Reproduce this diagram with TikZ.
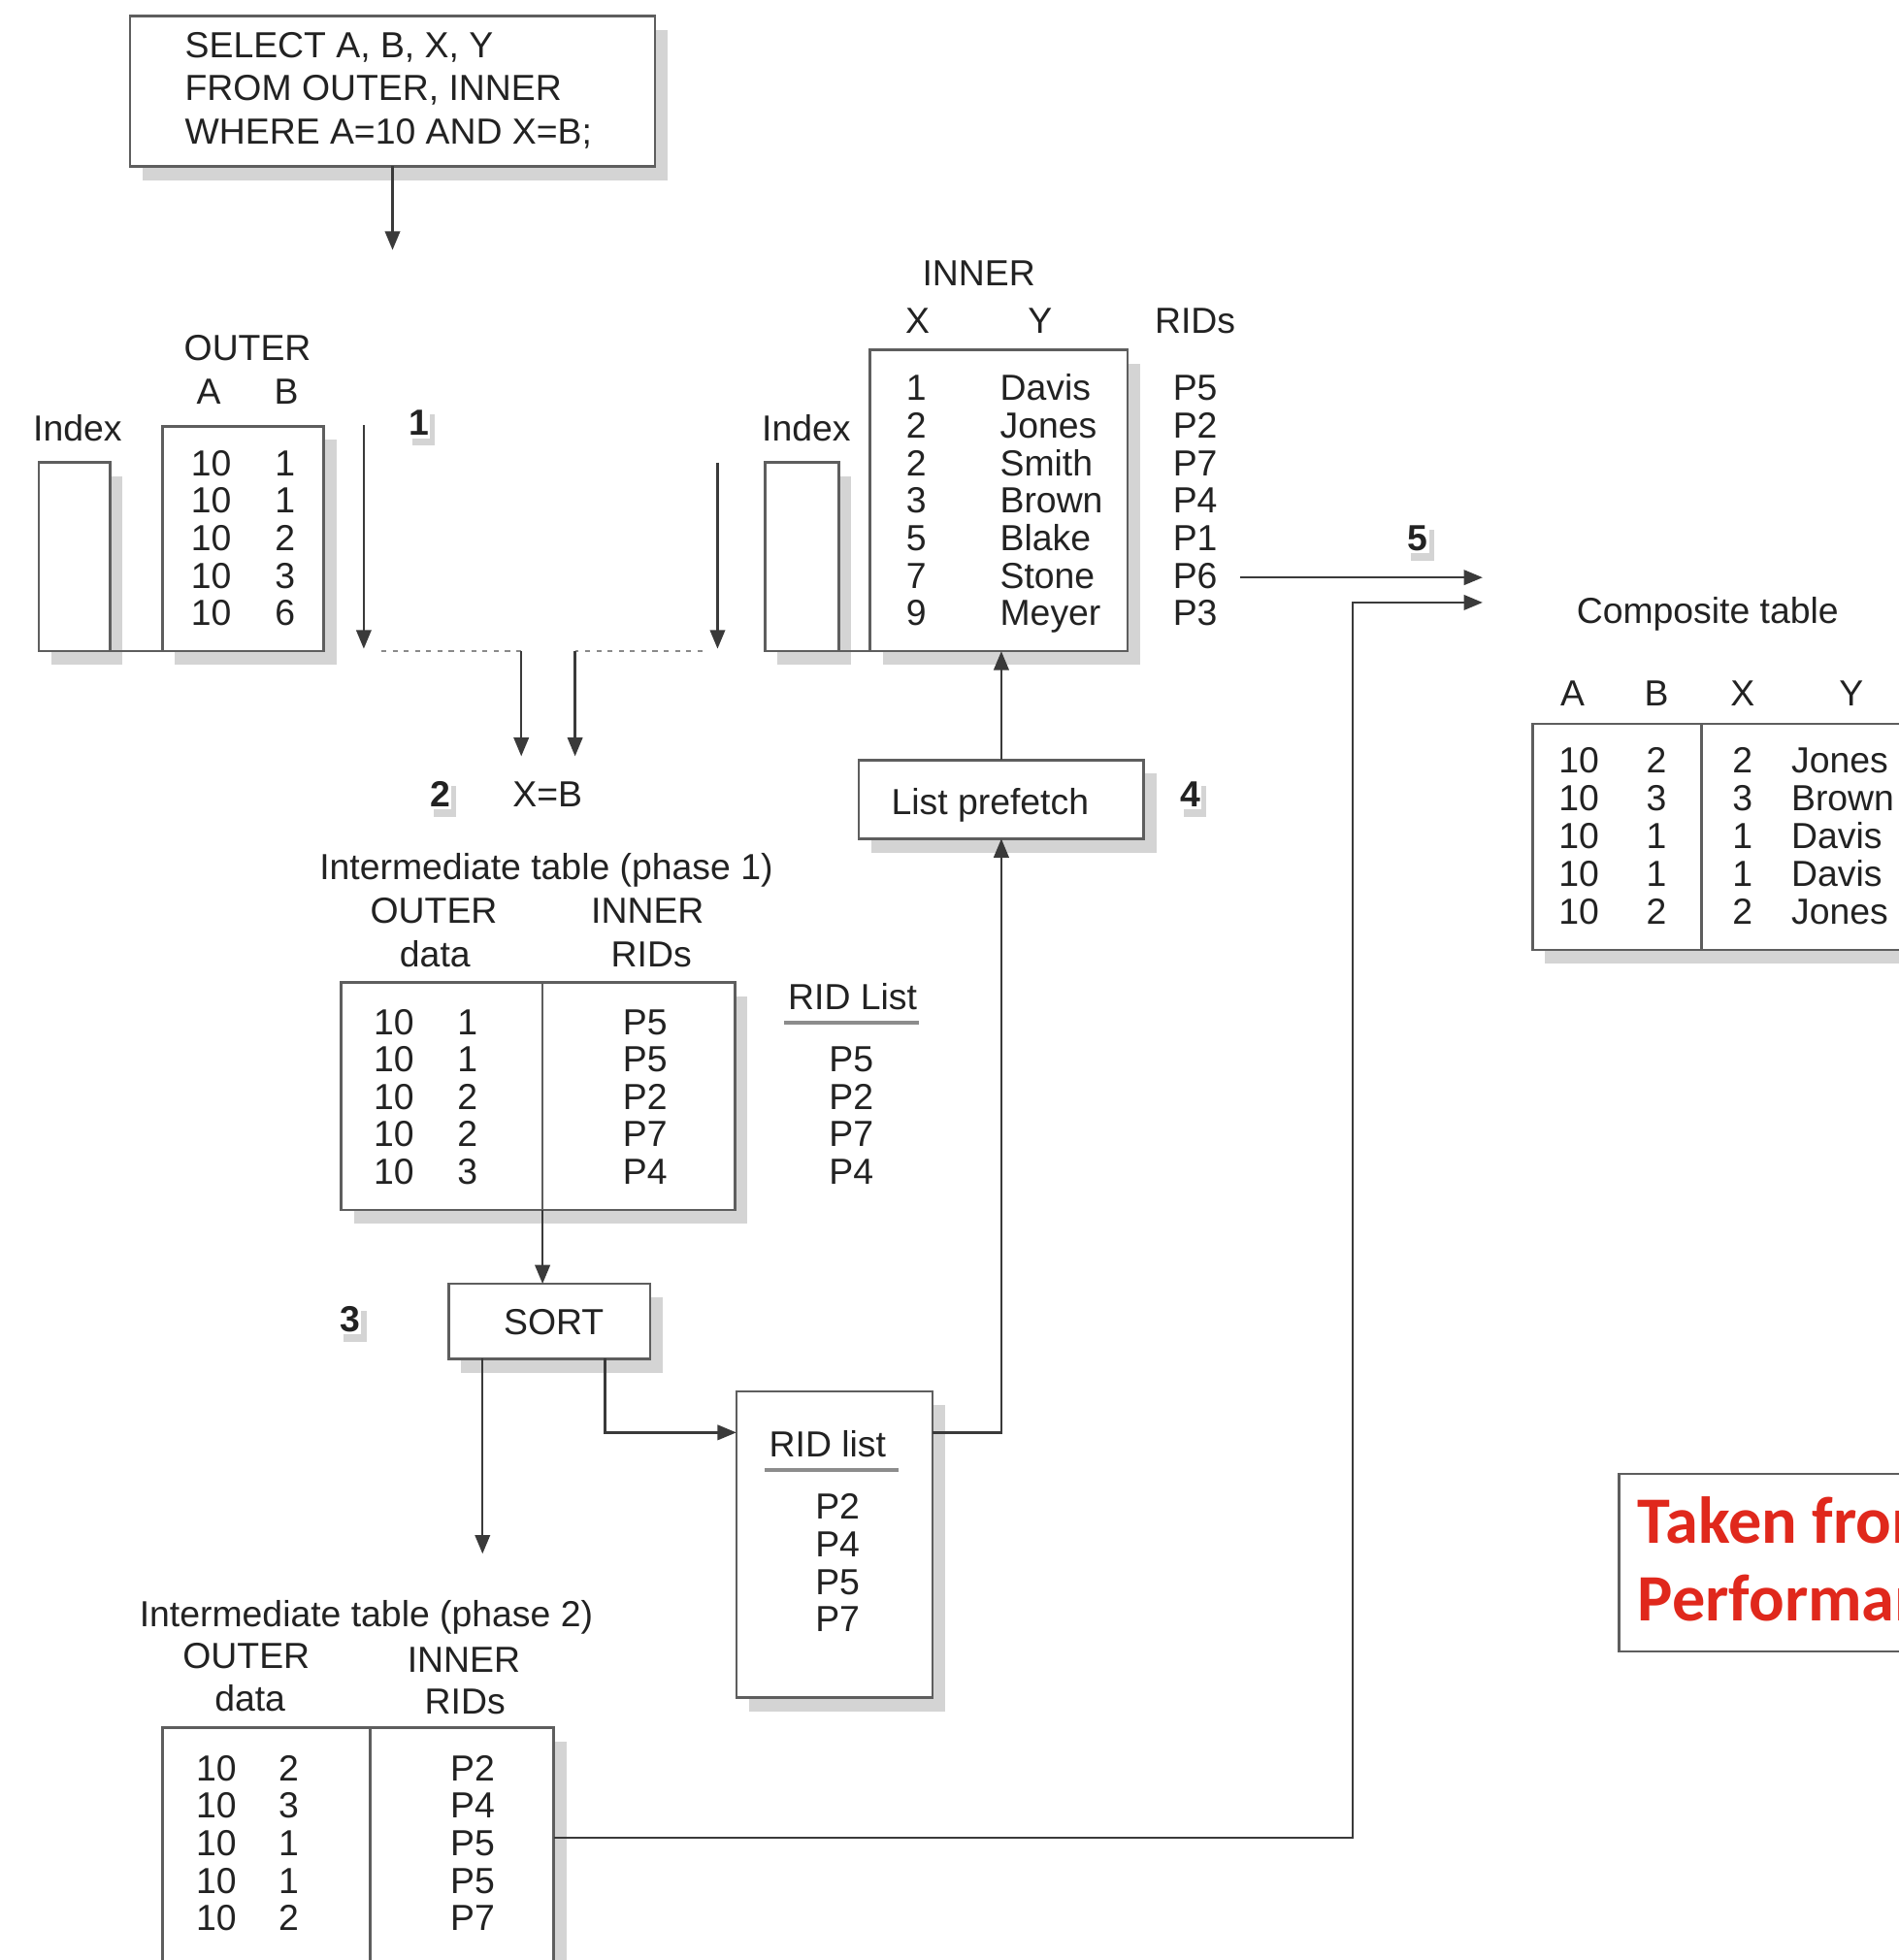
\documentclass[tikz,border=0pt]{standalone}
\usepackage{fontspec}
\setmainfont{Liberation Sans}
\newfontfamily\carl{Carlito}
\usetikzlibrary{arrows.meta,shadows}
\definecolor{txtc}{HTML}{222222}
\definecolor{boxc}{HTML}{5E5E5E}
\definecolor{shc}{HTML}{D4D4D4}
\definecolor{linec}{HTML}{3A3A3A}
\definecolor{dashc}{HTML}{8A8A8A}
\definecolor{ulc}{HTML}{8C8C8C}
\definecolor{redc}{HTML}{E0281C}
\newcommand\dfont{\fontsize{29}{34}\selectfont}
\newcommand\nfont{\fontsize{29}{34}\selectfont\bfseries}
\newcommand\rfont{\carl\bfseries\fontsize{53}{62}\selectfont}
\begin{document}
\begin{tikzpicture}[x=1pt,y=-1pt,
  t/.style={inner sep=0pt, outer sep=0pt, text height=21pt, text depth=0pt, font=\dfont, text=txtc},
  tw/.style={t, anchor=west},
  box/.style={draw=boxc, line width=2pt, fill=white, anchor=north west, inner sep=0pt, outer sep=0pt,
     drop shadow={shadow xshift=10pt, shadow yshift=-11pt, fill=shc, opacity=1}},
  stepn/.style={t, font=\nfont, fill=white, inner xsep=1pt, inner ysep=2pt,
     drop shadow={shadow xshift=4pt, shadow yshift=-6pt, fill=shc, opacity=1}},
  arr/.style={draw=linec, line width=1.8pt, -{Triangle[length=15pt,width=12pt]}},
  bln/.style={draw=boxc, line width=2pt},
  dsh/.style={draw=dashc, line width=1.6pt, dash pattern=on 4pt off 5pt},
  ul/.style={draw=ulc, line width=3pt}]
\clip (0,0) rectangle (1519,1568);
\fill[white] (0,0) rectangle (1519,1568);

% SQL box
\node[box, minimum width=420pt, minimum height=120pt] (sql) at (104,13) {};
\node[tw] (q1) at (148,36) {SELECT A, B, X, Y};
\node[tw] (q2) at (148,70) {FROM OUTER, INNER};
\node[tw] (q3) at (148,105) {WHERE A=10 AND X=B;};
\coordinate (sqlend) at (315,200);
\draw[arr] (sql.south) -- (sql.south |- sqlend);

% OUTER table
\node[t] (outerl) at (198,278) {OUTER};
\node[t] (ha) at (167,313) {A};
\node[t] (hb) at (229,313) {B};
\node[t] (idxl1) at (62,342) {Index};
\node[box, minimum width=57pt, minimum height=151pt] (idx1) at (31,370) {};
\node[box, minimum width=129pt, minimum height=180pt] (outer) at (130,341) {};
\draw[bln] (idx1.south east) -- (outer.south west);
\foreach \a/\b [count=\i] in {10/1,10/1,10/2,10/3,10/6}{
  \node[t] (oa\i) at (169,{340+30*\i}) {\a};
  \node[t] (ob\i) at (228,{340+30*\i}) {\b};
}
\node[stepn] (s1) at (335,338) {1};

% INNER table
\node[t] (innerl) at (783,218) {INNER};
\node[t] (hx) at (734,256) {X};
\node[t] (hy) at (832,256) {Y};
\node[t] (hr) at (956,256) {RIDs};
\node[t] (idxl2) at (645,342) {Index};
\node[box, minimum width=59pt, minimum height=151pt] (idx2) at (612,370) {};
\node[box, minimum width=206pt, minimum height=241pt] (inner) at (696,280) {};
\draw[bln] (idx2.south east) -- (inner.south west);
\foreach \x/\y/\r [count=\i] in {1/Davis/P5,2/Jones/P2,2/Smith/P7,3/Brown/P4,5/Blake/P1,7/Stone/P6,9/Meyer/P3}{
  \node[t] (ix\i) at (733,{280+30*\i}) {\x};
  \node[tw] (iy\i) at (800,{280+30*\i}) {\y};
  \node[t] (ir\i) at (956,{280+30*\i}) {\r};
}

% join arrows
\coordinate (a1s) at (291,340);
\coordinate (a1e) at (291,519);
\coordinate (d1s) at (305,521);
\coordinate (j1) at (417,521);
\coordinate (xb1) at (417,605);
\coordinate (a2s) at (574,370);
\coordinate (a2e) at (574,519);
\coordinate (d2s) at (562,521);
\coordinate (j2) at (460,521);
\coordinate (xb2) at (460,605);
\draw[arr] (a1s) -- (a1e);
\draw[arr] (a2s) -- (a2e);
\draw[dsh] (d1s) -- (j1);
\draw[dsh] (d2s) -- (j2);
\draw[arr] (j1) -- (xb1);
\draw[arr] (j2) -- (xb2);
\node[stepn] (s2) at (352,635) {2};
\node[t] (xeqb) at (438,635) {X=B};

% step 5 arrows
\node[stepn] (s5) at (1134,430) {5};
\coordinate (c5s) at (992,462);
\coordinate (c5e) at (1186,462);
\draw[arr] (c5s) -- (c5e);

% List prefetch
\node[box, minimum width=228pt, minimum height=63pt] (lp) at (687,608) {};
\node[t] (lpt) at (792,641) {List prefetch};
\node[stepn] (s4) at (952,635) {4};
\draw[arr] (lp.north) -- (lp.north |- inner.south);

% Phase 1
\node[t] (p1l) at (437,693) {Intermediate table (phase 1)};
\node[t] (p1o) at (347,728) {OUTER};
\node[t] (p1d) at (348,763) {data};
\node[t] (p1i) at (518,728) {INNER};
\node[t] (p1r) at (521,763) {RIDs};
\node[box, minimum width=315pt, minimum height=182pt] (p1) at (273,786) {};
\coordinate (p1div) at (434,786);
\draw[bln] (p1div) -- (p1div |- p1.south);
\foreach \a/\b/\r [count=\i] in {10/1/P5,10/1/P5,10/2/P2,10/2/P7,10/3/P4}{
  \node[t] (pa\i) at (315,{787+30*\i}) {\a};
  \node[t] (pb\i) at (374,{787+30*\i}) {\b};
  \node[t] (pr\i) at (516,{787+30*\i}) {\r};
}
\node[t] (rl1) at (682,797) {RID List};
\coordinate (ul1a) at (627,818);
\coordinate (ul1b) at (735,818);
\draw[ul] (ul1a) -- (ul1b);
\foreach \r [count=\i] in {P5,P2,P7,P4}{
  \node[t] (rla\i) at (681,{817+30*\i}) {\r};
}

% SORT
\node[box, minimum width=161pt, minimum height=60pt] (sort) at (359,1027) {};
\node[t] (sortt) at (443,1057) {SORT};
\node[stepn] (s3) at (280,1055) {3};
\draw[arr] (p1div |- p1.south) -- (p1div |- sort.north);

% RID list box
\node[box, minimum width=157pt, minimum height=245pt] (rid2) at (589,1113) {};
\node[t] (rl2) at (662,1155) {RID list};
\coordinate (ul2a) at (612,1176);
\coordinate (ul2b) at (719,1176);
\draw[ul] (ul2a) -- (ul2b);
\foreach \r [count=\i] in {P2,P4,P5,P7}{
  \node[t] (rlb\i) at (670,{1175+30*\i}) {\r};
}
\coordinate (p2arr) at (386,1243);
\draw[arr] ([xshift=27pt]sort.south west) -- (p2arr);
\draw[arr] ([xshift=125pt]sort.south west) |- ([yshift=-33pt]rid2.north west);
\draw[arr] ([yshift=-33pt]rid2.north east) -| (lp.south);

% Phase 2
\node[t] (p2l) at (293,1291) {Intermediate table (phase 2)};
\node[t] (p2o) at (197,1324) {OUTER};
\node[t] (p2d) at (200,1358) {data};
\node[t] (p2i) at (371,1327) {INNER};
\node[t] (p2r) at (372,1361) {RIDs};
\node[box, minimum width=313pt, minimum height=220pt] (p2) at (130,1382) {};
\coordinate (p2div) at (296,1382);
\draw[bln] (p2div) -- (p2div |- p2.south);
\foreach \a/\b/\r [count=\i] in {10/2/P2,10/3/P4,10/1/P5,10/1/P5,10/2/P7}{
  \node[t] (qa\i) at (173,{1384+30*\i}) {\a};
  \node[t] (qb\i) at (231,{1384+30*\i}) {\b};
  \node[t] (qr\i) at (378,{1384+30*\i}) {\r};
}
\coordinate (turn) at (1082,482);
\coordinate (comp2) at (1186,482);
\draw[arr] ([yshift=-88pt]p2.north east) -| (turn) -- (comp2);

% Composite table
\node[t] (ctl) at (1366,488) {Composite table};
\node[t] (cha) at (1258,554) {A};
\node[t] (chb) at (1325,554) {B};
\node[t] (chx) at (1394,554) {X};
\node[t] (chy) at (1481,554) {Y};
\node[box, minimum width=330pt, minimum height=181pt] (comp) at (1226,579) {};
\coordinate (cdiv) at (1361,579);
\draw[bln] (cdiv) -- (cdiv |- comp.south);
\foreach \a/\b/\x/\y [count=\i] in {10/2/2/Jones,10/3/3/Brown,10/1/1/Davis,10/1/1/Davis,10/2/2/Jones}{
  \node[t] (ca\i) at (1263,{577+30.4*\i}) {\a};
  \node[t] (cb\i) at (1325,{577+30.4*\i}) {\b};
  \node[t] (cx\i) at (1394,{577+30.4*\i}) {\x};
  \node[tw] (cy\i) at (1433,{577+30.4*\i}) {\y};
}

% red note
\node[draw=boxc, line width=2pt, anchor=north west, minimum width=300pt, minimum height=142pt, inner sep=0pt] (note) at (1294,1178) {};
\node[anchor=west, inner sep=0pt, text height=33pt, text depth=0pt, font=\rfont, text=redc] (n1) at (1310,1218) {Taken from};
\node[anchor=west, inner sep=0pt, text height=33pt, text depth=0pt, font=\rfont, text=redc] (n2) at (1310,1280) {Performance};
\end{tikzpicture}
\end{document}
